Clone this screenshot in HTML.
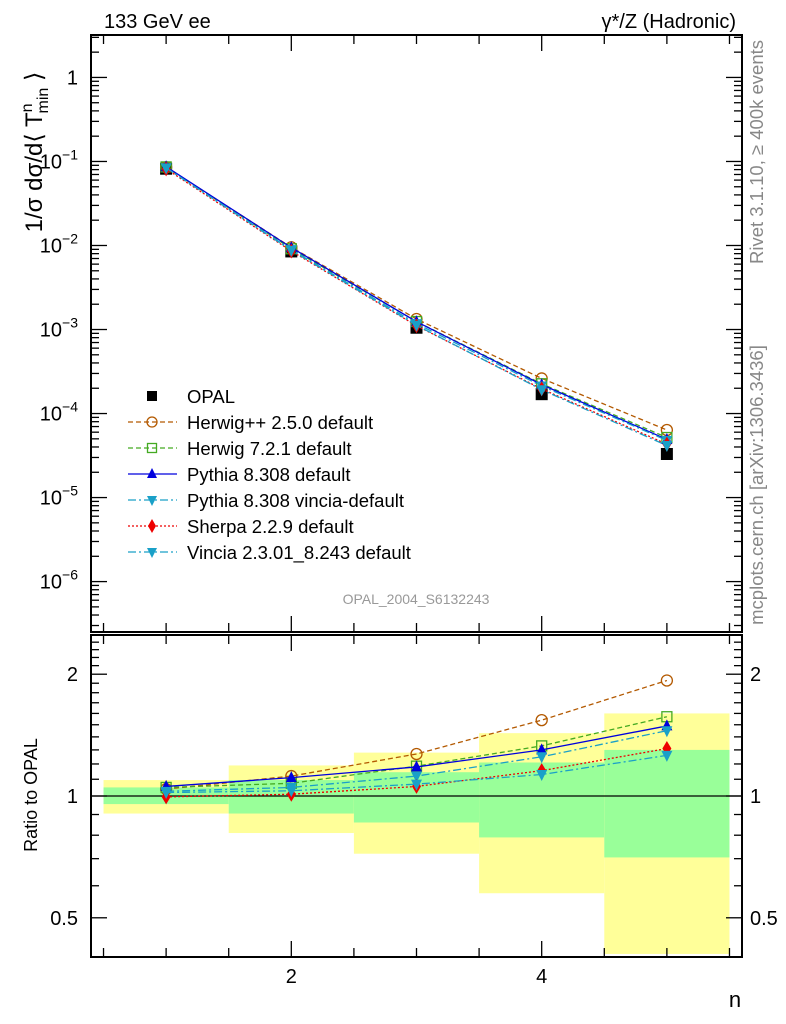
<!DOCTYPE html>
<html><head><meta charset="utf-8"><style>
html,body{margin:0;padding:0;background:#fff;}
svg{display:block;font-family:"Liberation Sans",sans-serif;}
</style></head><body>
<svg id="chart" width="786" height="1024" viewBox="0 0 786 1024" xmlns="http://www.w3.org/2000/svg">
<g id="bands"></g>
<g id="grid"></g>
<g id="series"></g>
<rect x="91" y="35" width="651" height="597" fill="none" stroke="#000" stroke-width="2"/>
<rect x="91" y="635" width="651" height="322" fill="none" stroke="#000" stroke-width="2"/>
<text x="104" y="28" font-size="20">133 GeV ee</text>
<text x="736" y="28" font-size="20" text-anchor="end">γ*/Z (Hadronic)</text>
<text transform="translate(42,152) rotate(-90)" font-size="24" text-anchor="middle">1/σ dσ/d⟨ T<tspan font-size="16" dy="-10">n</tspan><tspan font-size="16" dy="16" dx="-10">min</tspan><tspan dy="-6"> ⟩</tspan></text>
<text transform="translate(37,795) rotate(-90)" font-size="18" text-anchor="middle">Ratio to OPAL</text>
<text transform="translate(763,152) rotate(-90)" font-size="18.5" fill="#888" text-anchor="middle">Rivet 3.1.10, ≥ 400k events</text>
<text transform="translate(763,485) rotate(-90)" font-size="18.5" fill="#888" text-anchor="middle">mcplots.cern.ch [arXiv:1306.3436]</text>
<text x="416" y="604" font-size="14" fill="#999" text-anchor="middle">OPAL_2004_S6132243</text>
<text x="735" y="1007" font-size="22" text-anchor="middle">n</text>
<g id="legend"></g>
</svg>
<script>
const nVals = [1, 2, 3, 4, 5];
const opalVals = [0.082, 0.0085, 0.00105, 0.00017, 0.000033];
const herwigppRatio = [1.04, 1.12, 1.27, 1.54, 1.93];
const herwig7Ratio = [1.05, 1.075, 1.185, 1.33, 1.57];
const pythiaRatio = [1.056, 1.11, 1.18, 1.30, 1.49];
const pythiaVinciaRatio = [1.027, 1.05, 1.12, 1.25, 1.45];
const sherpaRatio = [0.995, 1.01, 1.056, 1.155, 1.31];
const vinciaRatio = [1.02, 1.03, 1.07, 1.13, 1.26];
const bandInnerUp = [1.05, 1.095, 1.145, 1.21, 1.30];
const bandInnerDown = [0.955, 0.905, 0.86, 0.79, 0.705];
const bandOuterUp = [1.095, 1.19, 1.28, 1.43, 1.60];
const bandOuterDown = [0.905, 0.81, 0.72, 0.575, 0.407];
const mainTickLabels = ["10^-6","10^-5","10^-4","10^-3","10^-2","10^-1","1"];
const ratioTickLabels = ["0.5","1","2"];
const xTickLabels = ["2","4"];

const NS="http://www.w3.org/2000/svg";
const X0=91,X1=742,Y0=35,Y1=632,R0=635,R1=957;
const xmin=0.4,xmax=5.6;
const px=x=>X0+(x-xmin)/(xmax-xmin)*(X1-X0);
const LYMAX=Math.log10(3.2),LYMIN=-6.6;
const py=v=>Y0+(LYMAX-Math.log10(v))/(LYMAX-LYMIN)*(Y1-Y0);
const RMAX=Math.log(2.5),RMIN=Math.log(0.4);
const ry=v=>R0+(RMAX-Math.log(v))/(RMAX-RMIN)*(R1-R0);
function mk(tag,attrs,parent){const e=document.createElementNS(NS,tag);for(const k in attrs)e.setAttribute(k,attrs[k]);parent.appendChild(e);return e;}
const grid=document.getElementById('grid'),bands=document.getElementById('bands'),series=document.getElementById('series'),legend=document.getElementById('legend');

nVals.forEach((n,i)=>{
 let r=mk('rect',{x:px(n-0.5),y:ry(bandOuterUp[i]),width:px(n+0.5)-px(n-0.5),height:ry(bandOuterDown[i])-ry(bandOuterUp[i]),fill:'#ffff99'},bands);
 
 
 let g=mk('rect',{x:px(n-0.5),y:ry(bandInnerUp[i]),width:px(n+0.5)-px(n-0.5),height:ry(bandInnerDown[i])-ry(bandInnerUp[i]),fill:'#99ff99'},bands);
 
 
});
mk('line',{x1:X0,x2:X1,y1:ry(1),y2:ry(1),stroke:'#000','stroke-width':1.3},grid);

for(let x=0.5;x<=5.51;x+=0.5){
 const major=Math.abs(x-Math.round(x/2)*2)<1e-6;
 const L=major?16:9;
 [[Y0,1],[Y1,-1],[R0,1],[R1,-1]].forEach(([y,d])=>mk('line',{x1:px(x),x2:px(x),y1:y,y2:y+d*L,stroke:'#000','stroke-width':1.3},grid));
}
xTickLabels.forEach(l=>{const t=mk('text',{x:px(+l),y:983,'font-size':20,'text-anchor':'middle'},grid);t.textContent=l;
 
 });

for(let d=-7;d<=1;d++){for(let m=1;m<=9;m++){const v=m*Math.pow(10,d);const lv=Math.log10(v);if(lv>LYMAX||lv<LYMIN)continue;
 const L=m==1?16:8;
 mk('line',{x1:X0,x2:X0+L,y1:py(v),y2:py(v),stroke:'#000','stroke-width':1.3},grid);
 mk('line',{x1:X1,x2:X1-L,y1:py(v),y2:py(v),stroke:'#000','stroke-width':1.3},grid);}}
mainTickLabels.forEach(l=>{
 const v=l==="1"?1:Math.pow(10,+l.split('^')[1]);
 const t=mk('text',{x:78,y:py(v)+7,'font-size':20,'text-anchor':'end'},grid);
 
 
 if(l==="1"){t.textContent="1";}
 else{t.textContent="10";const s=mk('tspan',{dy:-9,'font-size':14},t);s.textContent="−"+l.split('^-')[1];}
});
for(let k=4;k<=24;k++){const v=k/10;const lv=Math.log(v);if(lv>RMAX||lv<RMIN)continue;
 const L=(k==5||k==10||k==20)?16:8;
 mk('line',{x1:X0,x2:X0+L,y1:ry(v),y2:ry(v),stroke:'#000','stroke-width':1.3},grid);
 mk('line',{x1:X1,x2:X1-L,y1:ry(v),y2:ry(v),stroke:'#000','stroke-width':1.3},grid);}
ratioTickLabels.forEach(l=>{
 const a=mk('text',{x:78,y:ry(+l)+7,'font-size':20,'text-anchor':'end'},grid);a.textContent=l;
 
 
 const b=mk('text',{x:750,y:ry(+l)+7,'font-size':20},grid);b.textContent=l;
 
 
});

function marker(type,x,y,color,g,s){
 s=s||6;
 if(type==='sq')mk('rect',{x:x-s,y:y-s,width:2*s,height:2*s,fill:'#000'},g);
 else if(type==='circ')mk('circle',{cx:x,cy:y,r:s,fill:'none',stroke:color,'stroke-width':1.3},g);
 else if(type==='osq')mk('rect',{x:x-s+0.5,y:y-s+0.5,width:2*s-1,height:2*s-1,fill:'none',stroke:color,'stroke-width':1.3},g);
 else if(type==='up')mk('polygon',{points:`${x},${y-s-1} ${x-s},${y+s-1} ${x+s},${y+s-1}`,fill:color},g);
 else if(type==='down')mk('polygon',{points:`${x},${y+s+1} ${x-s},${y-s+1} ${x+s},${y-s+1}`,fill:color},g);
 else if(type==='dia')mk('polygon',{points:`${x},${y-s-2} ${x-s+1},${y} ${x},${y+s+2} ${x+s-1},${y}`,fill:color},g);
}
const mcs=[
 {name:'Herwig++ 2.5.0 default',id:'herwigpp',r:herwigppRatio,c:'#b35900',dash:'5,3',m:'circ'},
 {name:'Herwig 7.2.1 default',id:'herwig7',r:herwig7Ratio,c:'#44aa22',dash:'5,3',m:'osq'},
 {name:'Pythia 8.308 default',id:'pythia',r:pythiaRatio,c:'#0000dd',dash:'',m:'up'},
 {name:'Pythia 8.308 vincia-default',id:'pythia-vincia',r:pythiaVinciaRatio,c:'#1aa0c8',dash:'8,3,2,3',m:'down'},
 {name:'Sherpa 2.2.9 default',id:'sherpa',r:sherpaRatio,c:'#ee0000',dash:'2,2',m:'dia'},
 {name:'Vincia 2.3.01_8.243 default',id:'vincia',r:vinciaRatio,c:'#1aa0c8',dash:'8,3,2,3',m:'down'}
];
const og=mk('g',{},series);


nVals.forEach((n,i)=>marker('sq',px(n),py(opalVals[i]),'#000',og,6));
mcs.forEach(s=>{
 const g=mk('g',{},series);
 
 
 const main=nVals.map((n,i)=>[px(n),py(opalVals[i]*s.r[i])]);
 const rat=nVals.map((n,i)=>[px(n),ry(s.r[i])]);
 [main,rat].forEach(pts=>{
  mk('polyline',{points:pts.map(p=>p.join(',')).join(' '),fill:'none',stroke:s.c,'stroke-width':1.3,'stroke-dasharray':s.dash},g);
  pts.forEach(p=>marker(s.m,p[0],p[1],s.c,g,5.5));
 });
});
const items=[{name:'OPAL',m:'sq',c:'#000'}].concat(mcs);
items.forEach((s,i)=>{
 const y=396+i*26;
 const g=mk('g',{},legend);
 
 
 if(s.m!=='sq')mk('line',{x1:128,x2:177,y1:y,y2:y,stroke:s.c,'stroke-width':1.3,'stroke-dasharray':s.dash},g);
 marker(s.m,152,y,s.c,g,5);
 const t=mk('text',{x:187,y:y+7,'font-size':18.5},g);t.textContent=s.name;
});
</script>
</body></html>
